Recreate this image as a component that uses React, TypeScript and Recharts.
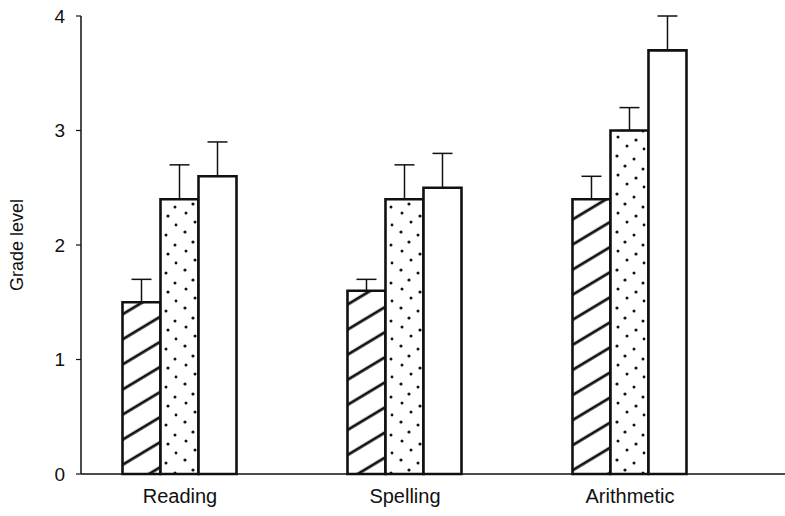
import React from 'react';
import { BarChart, Bar, XAxis, YAxis, ErrorBar, Label } from 'recharts';

// Categories along the x axis
const CATEGORIES: string[] = ['Reading', 'Spelling', 'Arithmetic'];

// Grade level per group (hatched, dotted, open bars)
const HATCHED: number[] = [1.5, 1.6, 2.4];
const DOTTED: number[] = [2.4, 2.4, 3.0];
const OPEN: number[] = [2.6, 2.5, 3.7];

// Upper error (only the top half is drawn)
const HATCHED_ERR: number[] = [0.2, 0.1, 0.2];
const DOTTED_ERR: number[] = [0.3, 0.3, 0.2];
const OPEN_ERR: number[] = [0.3, 0.3, 0.3];

const Y_TICKS: number[] = [0, 1, 2, 3, 4];

const data = CATEGORIES.map((name, i) => ({
  idx: i,
  name,
  hatched: HATCHED[i],
  dotted: DOTTED[i],
  open: OPEN[i],
  hatchedErr: [0, HATCHED_ERR[i]],
  dottedErr: [0, DOTTED_ERR[i]],
  openErr: [0, OPEN_ERR[i]],
}));

const INK = '#111';
const FONT = '"Liberation Sans", Arial, Helvetica, sans-serif';

// axis title drawn in the middle of the y axis' own box
const YTitle = (props: any) => {
  const vb = props.viewBox || {};
  const cx = (vb.x ?? 0) + 17;
  const cy = (vb.y ?? 0) + (vb.height ?? 0) / 2;
  return (
    <text
      x={cx}
      y={cy}
      transform={`rotate(-90, ${cx}, ${cy})`}
      textAnchor="middle"
      dominantBaseline="central"
      fill={INK}
      fontSize={18}
      fontFamily={FONT}
    >
      Grade level
    </text>
  );
};

export default function App() {
  return (
    <div style={{ position: 'absolute', left: 0, top: 0, fontFamily: FONT }}>
      <BarChart
        width={785}
        height={516}
        data={data}
        margin={{ top: 16, right: 0, left: 0, bottom: 0 }}
        barGap={0}
        barSize={38}
      >
        <defs>
          <pattern
            id="hatch"
            patternUnits="userSpaceOnUse"
            width={12}
            height={21.5}
            patternTransform="rotate(-31)"
          >
            <rect width={12} height={21.5} fill="#fff" />
            <line x1={0} y1={10} x2={12} y2={10} stroke={INK} strokeWidth={2.8} />
          </pattern>
          <pattern id="dots" patternUnits="userSpaceOnUse" width={36} height={38}>
            <rect width={36} height={38} fill="#fff" />
            <circle cx={5} cy={4} r={1.6} fill={INK} />
            <circle cx={22} cy={7} r={1.5} fill={INK} />
            <circle cx={13} cy={14} r={1.6} fill={INK} />
            <circle cx={31} cy={17} r={1.5} fill={INK} />
            <circle cx={6} cy={23} r={1.5} fill={INK} />
            <circle cx={24} cy={26} r={1.6} fill={INK} />
            <circle cx={15} cy={32} r={1.5} fill={INK} />
            <circle cx={32} cy={35} r={1.4} fill={INK} />
          </pattern>
        </defs>
        <XAxis
          type="number"
          dataKey="idx"
          domain={[-0.44, 2.689]}
          ticks={[0, 1, 2]}
          allowDataOverflow
          height={42}
          tickFormatter={(v: number) => CATEGORIES[v] ?? ''}
          tickSize={0}
          tickMargin={15}
          axisLine={{ stroke: INK, strokeWidth: 1.5 }}
          tick={{ fill: INK, fontSize: 20, fontFamily: FONT }}
        />
        <YAxis
          domain={[0, 4]}
          ticks={Y_TICKS}
          width={81}
          tickSize={5}
          tickMargin={11}
          axisLine={{ stroke: INK, strokeWidth: 1.5 }}
          tickLine={{ stroke: INK, strokeWidth: 1.2 }}
          tick={{ fill: INK, fontSize: 19, fontFamily: FONT }}
        >
          <Label content={YTitle} />
        </YAxis>
        <Bar dataKey="hatched" fill="url(#hatch)" stroke={INK} strokeWidth={2.6} isAnimationActive={false}>
          <ErrorBar dataKey="hatchedErr" direction="y" width={10} stroke={INK} strokeWidth={1.5} />
        </Bar>
        <Bar dataKey="dotted" fill="url(#dots)" stroke={INK} strokeWidth={2.6} isAnimationActive={false}>
          <ErrorBar dataKey="dottedErr" direction="y" width={10} stroke={INK} strokeWidth={1.5} />
        </Bar>
        <Bar dataKey="open" fill="#fff" stroke={INK} strokeWidth={2.6} isAnimationActive={false}>
          <ErrorBar dataKey="openErr" direction="y" width={10} stroke={INK} strokeWidth={1.5} />
        </Bar>
      </BarChart>
    </div>
  );
}
